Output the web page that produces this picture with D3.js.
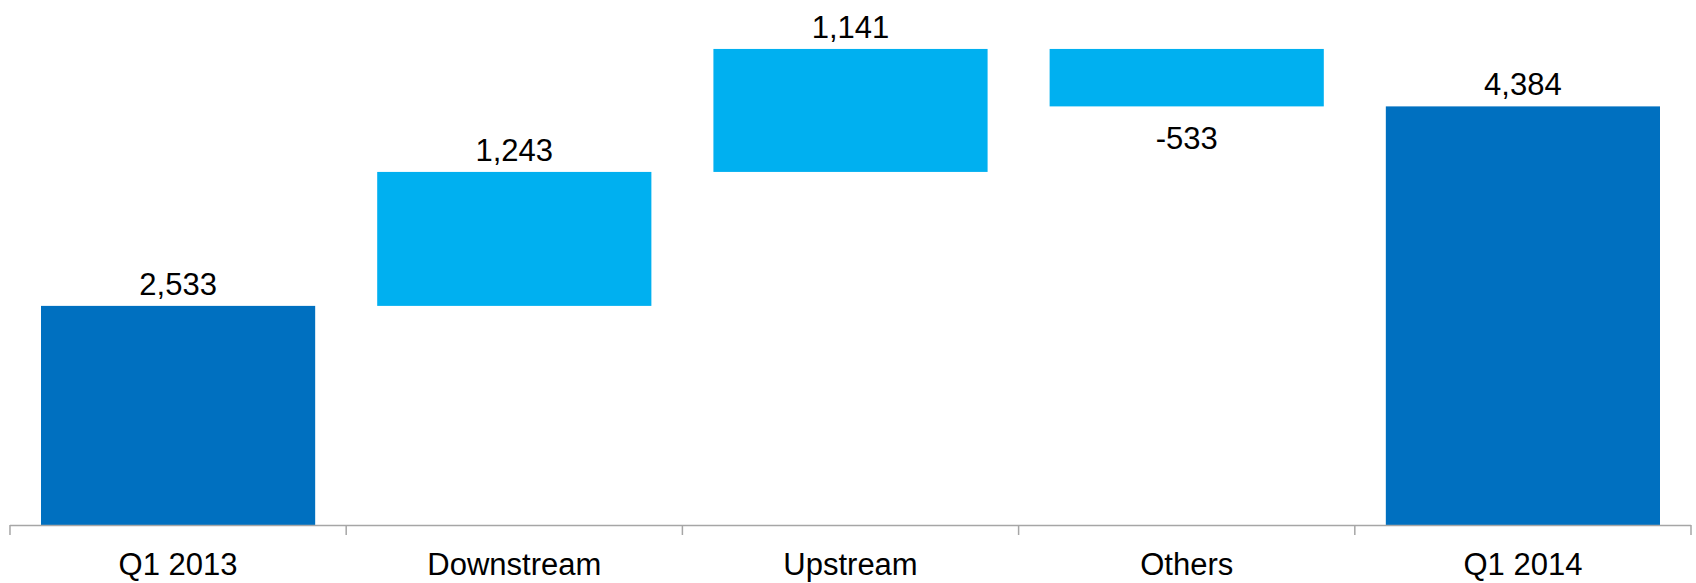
<!DOCTYPE html>
<html>
<head>
<meta charset="utf-8">
<script src="https://cdn.jsdelivr.net/npm/d3@7"></script>
<style>
  html, body { margin: 0; padding: 0; background: #fff; }
  svg { display: block; font-family: "Liberation Sans", Arial, sans-serif; }
</style>
</head>
<body>
<svg id="chart" width="1696" height="583"></svg>
<script>
// Waterfall: Q1 2013 -> Q1 2014 bridge
const categories = ["Q1 2013", "Downstream", "Upstream", "Others", "Q1 2014"];
const values = [2533, 1243, 1141, -533, 4384];
const isTotal = [true, false, false, false, true];
const yDomain = [500, 5000];

const svg = d3.select("#chart");

const x = d3.scaleBand()
  .domain(categories)
  .range([10, 1691])
  .paddingInner(0.1845)
  .paddingOuter(0.0922);

const y = d3.scaleLinear().domain(yDomain).range([525, 40]);

// Running start/end for each step
let running = 0;
const steps = categories.map((c, i) => {
  let start, end;
  if (isTotal[i]) { start = yDomain[0]; end = values[i]; running = values[i]; }
  else { start = running; end = running + values[i]; running = end; }
  return { cat: c, value: values[i], start, end, total: isTotal[i] };
});

// Thousands separator with a plain hyphen for negatives
const fmt = d3.formatLocale({ decimal: ".", thousands: ",", grouping: [3], currency: ["", ""], minus: "-" }).format(",");

svg.append("g").selectAll("rect")
  .data(steps)
  .join("rect")
  .attr("x", d => x(d.cat))
  .attr("width", x.bandwidth())
  .attr("y", d => y(Math.max(d.start, d.end)))
  .attr("height", d => Math.abs(y(d.start) - y(d.end)))
  .attr("fill", d => d.total ? "#0070C0" : "#00B0F0");

// Category axis with tick marks between categories
const gx = svg.append("g").attr("transform", "translate(0,525)");
gx.append("line")
  .attr("x1", 10).attr("x2", 1691).attr("y1", 0.5).attr("y2", 0.5)
  .attr("stroke", "#a6a6a6").attr("stroke-width", 1.5);
const bounds = categories.map(c => x(c) - x.step() * x.paddingInner() / 2);
bounds.push(1691);
gx.selectAll("line.tick")
  .data(bounds)
  .join("line")
  .attr("class", "tick")
  .attr("x1", d => d).attr("x2", d => d)
  .attr("y1", 0).attr("y2", 10)
  .attr("stroke", "#a6a6a6").attr("stroke-width", 1.5);

gx.selectAll("text.cat")
  .data(categories)
  .join("text")
  .attr("class", "cat")
  .attr("x", d => x(d) + x.bandwidth() / 2)
  .attr("y", 50)
  .attr("text-anchor", "middle")
  .attr("font-size", 31)
  .attr("fill", "#000")
  .text(d => d);

// Value labels: above rising/total bars, below falling bars
svg.append("g").selectAll("text")
  .data(steps)
  .join("text")
  .attr("x", d => x(d.cat) + x.bandwidth() / 2)
  .attr("y", d => d.value < 0 ? y(Math.min(d.start, d.end)) + 43 : y(Math.max(d.start, d.end)) - 11)
  .attr("text-anchor", "middle")
  .attr("font-size", 31)
  .attr("fill", "#000")
  .text(d => fmt(d.value));
</script>
</body>
</html>
